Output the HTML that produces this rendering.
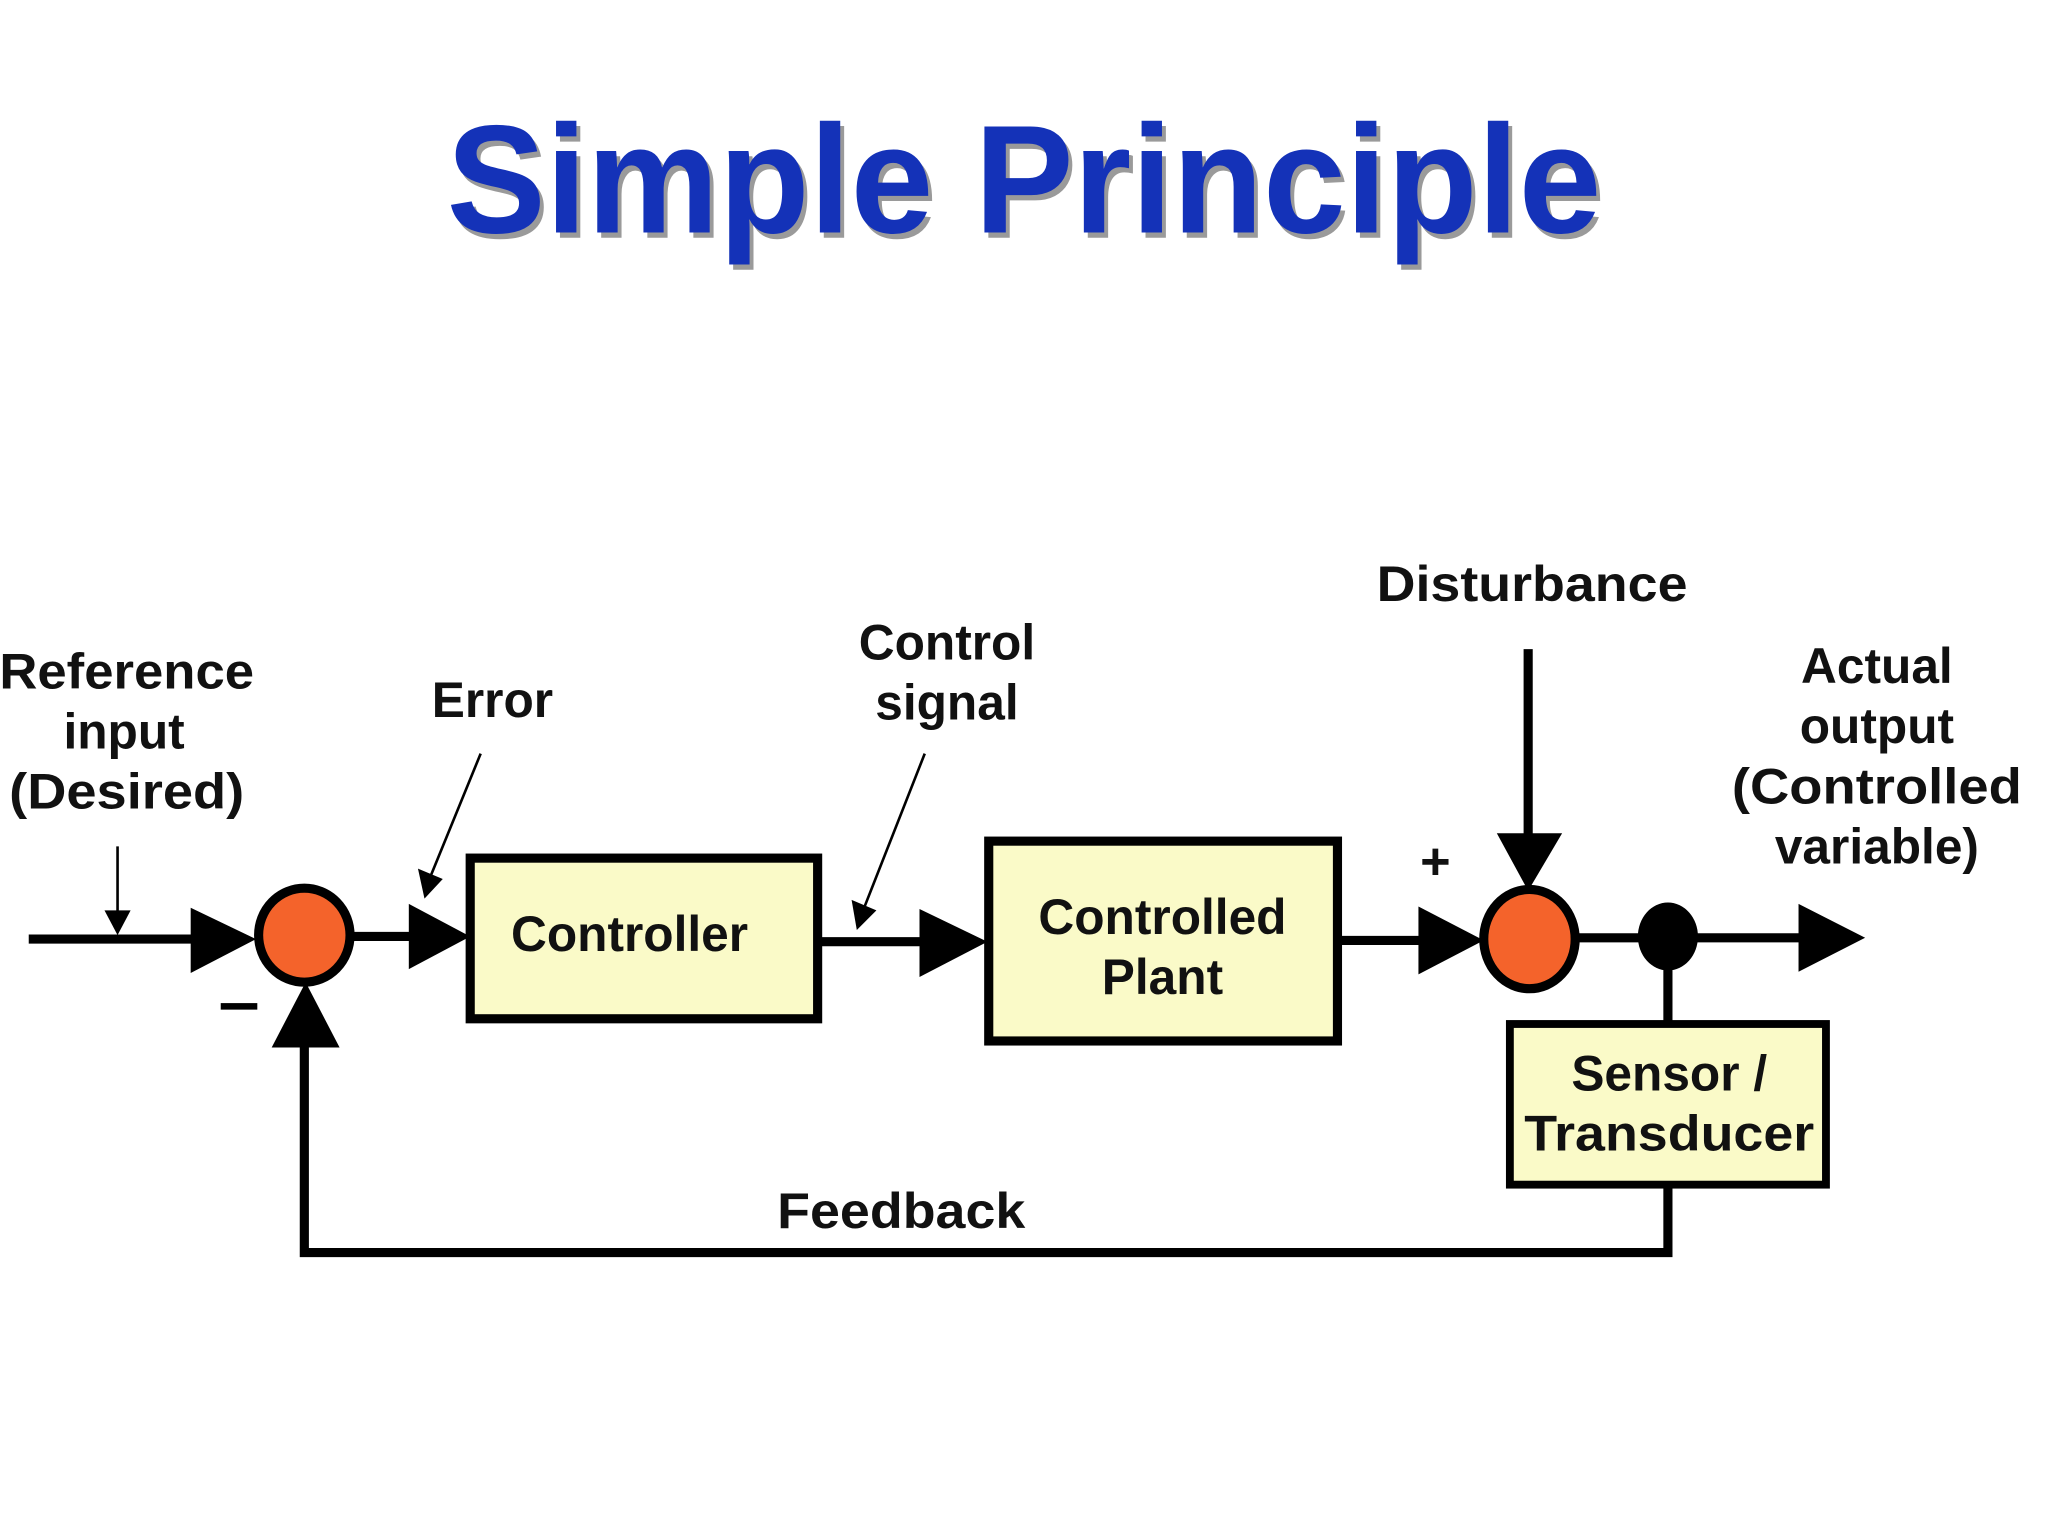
<!DOCTYPE html>
<html><head><meta charset="utf-8"><style>
html,body{margin:0;padding:0;background:#fff;}
svg{display:block;}
text{font-family:"Liberation Sans",sans-serif;font-weight:bold;fill:#111;}
</style></head><body>
<svg width="2048" height="1536" viewBox="0 0 1568 1176" xmlns="http://www.w3.org/2000/svg">
<rect width="1568" height="1176" fill="#fff"/>
<!-- title -->
<text x="784" y="178" text-anchor="middle" font-size="118" textLength="884" lengthAdjust="spacingAndGlyphs" style="fill:#9a9a9a" transform="translate(3,4)">Simple Principle</text>
<text x="784" y="178" text-anchor="middle" font-size="118" textLength="884" lengthAdjust="spacingAndGlyphs" style="fill:#1432b8">Simple Principle</text>

<g stroke="#000" stroke-width="7" fill="none">
<line x1="22" y1="719" x2="160" y2="719"/>
<line x1="270" y1="717" x2="325" y2="717"/>
<line x1="626" y1="721" x2="715" y2="721"/>
<line x1="1024" y1="720" x2="1095" y2="720"/>
<line x1="1208" y1="718" x2="1390" y2="718"/>
<line x1="1170" y1="497" x2="1170" y2="650"/>
<line x1="1277" y1="717" x2="1277" y2="786"/>
<polyline points="1277,905 1277,959 233,959 233,790"/>
</g>
<g fill="#000">
<polygon points="146,695 146,745 196,719"/>
<polygon points="313,692 313,742 360,717"/>
<polygon points="704,696 704,748 756,721"/>
<polygon points="1086,694 1086,746 1136,720"/>
<polygon points="1146,638 1196,638 1170,682"/>
<polygon points="1377,692 1377,744 1428,718"/>
<polygon points="208,802 260,802 234,752"/>
</g>
<!-- thin pointers -->
<g stroke="#000" stroke-width="2" fill="none">
<line x1="90" y1="648" x2="90" y2="700"/>
<line x1="368" y1="577" x2="330" y2="670"/>
<line x1="708" y1="577" x2="662" y2="694"/>
</g>
<g fill="#000">
<polygon points="80,697 100,697 90,716"/>
<polygon points="320,665 339,673 325,688"/>
<polygon points="652,689 671,697 656,712"/>
</g>

<!-- junctions -->
<ellipse cx="233" cy="716" rx="35" ry="36" fill="#f4632b" stroke="#000" stroke-width="7"/>
<ellipse cx="1171" cy="719" rx="35" ry="38" fill="#f4632b" stroke="#000" stroke-width="7"/>
<ellipse cx="1277" cy="717" rx="23" ry="26" fill="#000"/>

<!-- boxes -->
<rect x="360" y="657" width="266" height="123" fill="#fafac8" stroke="#000" stroke-width="7"/>
<rect x="757" y="644" width="267" height="153" fill="#fafac8" stroke="#000" stroke-width="7"/>
<rect x="1156" y="784" width="242" height="123" fill="#fafac8" stroke="#000" stroke-width="6"/>

<g font-size="38" text-anchor="middle">
<text x="482" y="728">Controller</text>
<text x="890" y="715">Controlled</text>
<text x="890" y="761">Plant</text>
<text x="1278" y="835">Sensor /</text>
<text x="1278" y="881" textLength="222" lengthAdjust="spacingAndGlyphs">Transducer</text>
<text x="97" y="527" textLength="195" lengthAdjust="spacingAndGlyphs">Reference</text>
<text x="95" y="573">input</text>
<text x="97" y="619" textLength="180" lengthAdjust="spacingAndGlyphs">(Desired)</text>
<text x="377" y="549">Error</text>
<text x="725" y="505">Control</text>
<text x="725" y="551">signal</text>
<text x="1173" y="460" textLength="238" lengthAdjust="spacingAndGlyphs">Disturbance</text>
<text x="1437" y="523">Actual</text>
<text x="1437" y="569">output</text>
<text x="1437" y="615" textLength="222" lengthAdjust="spacingAndGlyphs">(Controlled</text>
<text x="1437" y="661">variable)</text>
<text x="690" y="940" textLength="190" lengthAdjust="spacingAndGlyphs">Feedback</text>
<text x="1099" y="673" font-size="40">+</text>
</g>
<rect x="169" y="768" width="28" height="5" fill="#000"/>
</svg>
</body></html>
